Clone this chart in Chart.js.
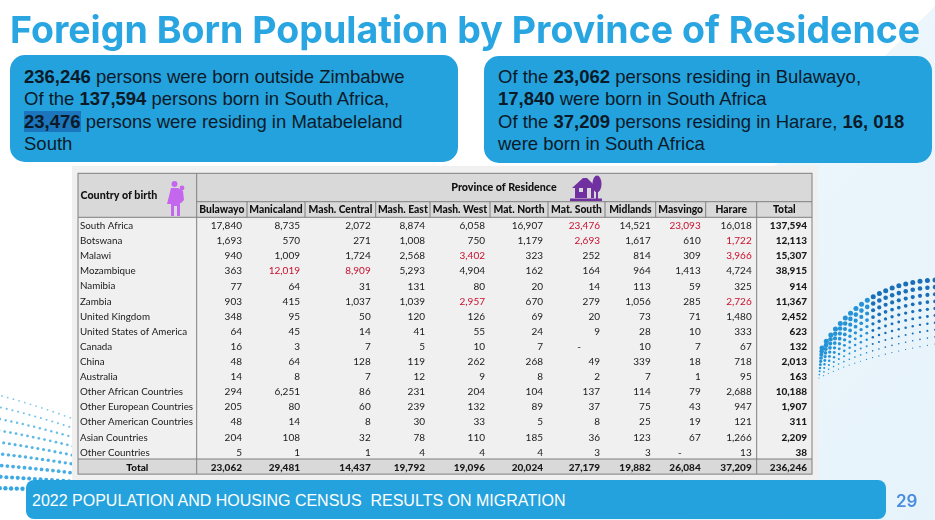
<!DOCTYPE html>
<html>
<head>
<meta charset="utf-8">
<script src="https://cdn.jsdelivr.net/npm/chart.js@4"></script>
<style>
html, body { margin: 0; padding: 0; background: #fff; }
#slide { position: relative; width: 935px; height: 520px; overflow: hidden; background: #fff; font-family: "Liberation Sans", Arial, sans-serif; }
#tint { position: absolute; inset: 0; background: linear-gradient(135deg, #f6fbfe 0%, #e6f3fa 100%); clip-path: polygon(935px 6px, 935px 520px, 560px 520px, 560px 380px); }
#deco, #chart { position: absolute; left: 0; top: 0; }
h1 { position: absolute; left: 10px; top: 7px; margin: 0; font: 700 37.5px Inter, sans-serif; color: #29a6e2; white-space: nowrap; }
.note { position: absolute; background: #24a2de; border-radius: 15px; color: #0b1a28; font-size: 18.5px; line-height: 22.4px; white-space: nowrap; box-sizing: border-box; }
#noteA { left: 10px; top: 55px; width: 448px; height: 107px; padding: 11px 0 0 14px; }
#noteB { left: 484px; top: 56px; width: 448px; height: 107px; padding: 10px 0 0 14px; }
.mark { background: #1b76bd; }
#footer { position: absolute; left: 26px; top: 480px; width: 860px; height: 39px; background: #24a2de; border-radius: 8px; color: #fff; font-size: 16px; line-height: 41px; text-indent: 6px; white-space: pre; }
#page { position: absolute; left: 896px; top: 491px; font: 600 17px Inter, sans-serif; color: #4a8ce0; }
svg { position: absolute; }
</style>
</head>
<body>
<div id="slide">
  <div id="tint"></div>
  <canvas id="deco" width="935" height="520"></canvas>
  <h1>Foreign Born Population by Province of Residence</h1>
  <div id="noteA" class="note"><b>236,246</b> persons were born outside Zimbabwe<br>Of the <b>137,594</b> persons born in South Africa,<br><b class="mark">23,476</b> persons were residing in Matabeleland<br>South</div>
  <div id="noteB" class="note">Of the <b>23,062</b> persons residing in Bulawayo,<br><b>17,840</b> were born in South Africa<br>Of the <b>37,209</b> persons residing in Harare, <b>16, 018</b><br>were born in South Africa</div>
  <canvas id="chart" width="935" height="480"></canvas>
  <svg style="left:166px;top:180px" width="22" height="37" viewBox="0 0 22 37" fill="#c566ee">
    <circle cx="8.5" cy="4" r="3"/><circle cx="16" cy="8" r="2.4"/>
    <path d="M5 8h7l5 3 1 9-3 3-1 0v13h-3V26H8v10H5V24H1z"/>
  </svg>
  <svg style="left:570px;top:175px" width="34" height="27" viewBox="0 0 34 27" fill="#7030a0">
    <path d="M2 13 13 3h4l8 8v2h-1v10H5V13z"/>
    <ellipse cx="27" cy="9" rx="4.5" ry="8.5"/><rect x="26" y="16" width="2" height="8"/>
    <rect x="0" y="23.5" width="32" height="2.5"/>
    <rect x="9" y="13" width="4" height="4" fill="#d9d9d9"/><rect x="17" y="13" width="4" height="10" fill="#d9d9d9"/>
  </svg>
  <div id="footer">2022 POPULATION AND HOUSING CENSUS  RESULTS ON MIGRATION</div>
  <div id="page">29</div>
</div>
<script>
var provinces = ['Bulawayo', 'Manicaland', 'Mash. Central', 'Mash. East', 'Mash. West', 'Mat. North', 'Mat. South', 'Midlands', 'Masvingo', 'Harare', 'Total'];
var countries = ['South Africa', 'Botswana', 'Malawi', 'Mozambique', 'Namibia', 'Zambia', 'United Kingdom', 'United States of America', 'Canada', 'China', 'Australia', 'Other African Countries', 'Other European Countries', 'Other American Countries', 'Asian Countries', 'Other Countries', 'Total'];

var southAfrica = [17840, 8735, 2072, 8874, 6058, 16907, 23476, 14521, 23093, 16018, 137594];
var botswana = [1693, 570, 271, 1008, 750, 1179, 2693, 1617, 610, 1722, 12113];
var malawi = [940, 1009, 1724, 2568, 3402, 323, 252, 814, 309, 3966, 15307];
var mozambique = [363, 12019, 8909, 5293, 4904, 162, 164, 964, 1413, 4724, 38915];
var namibia = [77, 64, 31, 131, 80, 20, 14, 113, 59, 325, 914];
var zambia = [903, 415, 1037, 1039, 2957, 670, 279, 1056, 285, 2726, 11367];
var unitedKingdom = [348, 95, 50, 120, 126, 69, 20, 73, 71, 1480, 2452];
var unitedStates = [64, 45, 14, 41, 55, 24, 9, 28, 10, 333, 623];
var canada = [16, 3, 7, 5, 10, 7, null, 10, 7, 67, 132];
var china = [48, 64, 128, 119, 262, 268, 49, 339, 18, 718, 2013];
var australia = [14, 8, 7, 12, 9, 8, 2, 7, 1, 95, 163];
var otherAfrican = [294, 6251, 86, 231, 204, 104, 137, 114, 79, 2688, 10188];
var otherEuropean = [205, 80, 60, 239, 132, 89, 37, 75, 43, 947, 1907];
var otherAmerican = [48, 14, 8, 30, 33, 5, 8, 25, 19, 121, 311];
var asian = [204, 108, 32, 78, 110, 185, 36, 123, 67, 1266, 2209];
var otherCountries = [5, 1, 1, 4, 4, 4, 3, 3, null, 13, 38];
var totals = [23062, 29481, 14437, 19792, 19096, 20024, 27179, 19882, 26084, 37209, 236246];
var rows = [southAfrica, botswana, malawi, mozambique, namibia, zambia, unitedKingdom, unitedStates, canada, china, australia, otherAfrican, otherEuropean, otherAmerican, asian, otherCountries, totals];

// cells printed in red, as row:column
var redCells = ['0:6', '0:8', '1:6', '1:9', '2:4', '2:9', '3:1', '3:2', '5:4', '5:9'];

// column widths of the table, the x scale runs over their sum
var colWidths = [50.3, 58, 70.7, 54.3, 60, 58, 57, 50.7, 50, 51, 55.3];
var colEnds = [], colMids = [];
(function() {
    var sum = 0;
    colWidths.forEach(function(w) {
        colMids.push(sum + w / 2);
        sum += w;
        colEnds.push(sum);
    });
})();

var tableLeft = 78, headTop = 173.3, headMid = 201.7;
var lineColor = '#7f7f7f', headFill = '#d9d9d9', cellFont = '10px Lato', boldFont = '900 10px Lato', titleFont = '900 10.7px Lato';

function fmtNum(v) {
    return v === null ? '-' : v.toLocaleString('en-US');
}

function drawDeco() {
    var ctx = document.getElementById('deco').getContext('2d');
    var r, i;
    // lower left fan
    for (r = 0; r < 9; r++) {
        for (i = 0; i < 14; i++) {
            var t = i / 13, k = r / 8;
            var x = 2 + t * 74 - k * 8;
            var y = 396 + k * 92 + t * (24 - k * 22) - 4 * (1 - k) * t * (1 - t);
            ctx.fillStyle = 'rgba(40,160,225,' + (0.6 + k * 0.35) + ')';
            ctx.beginPath();
            ctx.arc(x, y, 0.9 + k * 1.3, 0, Math.PI * 2);
            ctx.fill();
        }
    }
    // right fan
    for (r = 0; r < 10; r++) {
        for (i = 0; i < 20; i++) {
            var u = i / 19, q = r / 9;
            var sx = 819 + q * 3, sy = 378 - q * 30;
            var ex = 935, ey = 344 - q * 64;
            var cx = 862, cy = 356 - q * 73;
            var px = (1 - u) * (1 - u) * sx + 2 * u * (1 - u) * cx + u * u * ex;
            var py = (1 - u) * (1 - u) * sy + 2 * u * (1 - u) * cy + u * u * ey;
            ctx.fillStyle = u > 0.5 ? '#1a6fb8' : '#2593d6';
            ctx.beginPath();
            ctx.arc(px, py, 0.6 + q * 1.9, 0, Math.PI * 2);
            ctx.fill();
        }
    }
}

var tablePlugin = {
    id: 'tablePlugin',
    beforeDraw: function(chart) {
        var ctx = chart.ctx, a = chart.chartArea;
        var xs = chart.scales.x, ys = chart.scales.y;
        var totalTop = ys.getPixelForValue(countries.length - 1) - (ys.getPixelForValue(1) - ys.getPixelForValue(0)) / 2;
        ctx.save();
        ctx.fillStyle = '#f0f0f0';
        ctx.fillRect(72, 166, 746, 314);
        ctx.fillStyle = headFill;
        ctx.fillRect(tableLeft, headTop, a.right - tableLeft, a.top - headTop);
        ctx.fillRect(tableLeft, totalTop, a.right - tableLeft, a.bottom - totalTop);

        ctx.strokeStyle = lineColor;
        ctx.lineWidth = 1;
        function line(x1, y1, x2, y2) {
            ctx.beginPath();
            ctx.moveTo(x1, y1);
            ctx.lineTo(x2, y2);
            ctx.stroke();
        }
        ctx.strokeRect(tableLeft, headTop, a.right - tableLeft, a.bottom - headTop);
        line(tableLeft, a.top, a.right, a.top);
        line(a.left, headMid, a.right, headMid);
        line(a.left, headTop, a.left, a.bottom);
        line(tableLeft, totalTop, a.right, totalTop);
        colEnds.forEach(function(end, i) {
            var x = xs.getPixelForValue(end);
            if (i < colEnds.length - 2) line(x, headMid, x, a.top);
            if (i === colEnds.length - 2) line(x, headMid, x, a.bottom);
        });
        ctx.restore();
    },
    afterDatasetsDraw: function(chart) {
        var ctx = chart.ctx, a = chart.chartArea;
        var ys = chart.scales.y;
        ctx.save();
        ctx.textBaseline = 'middle';
        chart.data.datasets.forEach(function(ds, di) {
            var els = chart.getDatasetMeta(di).data;
            els.forEach(function(el, ci) {
                var v = ds.data[ci].value;
                var bold = ci === colEnds.length - 1 || di === countries.length - 1;
                ctx.font = bold ? boldFont : cellFont;
                ctx.fillStyle = redCells.indexOf(di + ':' + ci) >= 0 ? '#c8102e' : '#1a1a1a';
                ctx.textAlign = 'right';
                ctx.fillText(fmtNum(v), el.x - (v === null ? 24 : 5), el.y + 1);
            });
        });
        ctx.fillStyle = '#111';
        ctx.textAlign = 'center';
        ctx.font = boldFont;
        ctx.fillText('Total', (tableLeft + a.left) / 2, ys.getPixelForValue(countries.length - 1) + 1);
        ctx.font = titleFont;
        ctx.fillText('Province of Residence', 504, 187.5);
        ctx.textAlign = 'left';
        ctx.fillText('Country of birth', 80.5, 195.5);
        ctx.restore();
    }
};

function buildDatasets() {
    return rows.map(function(row, r) {
        return {
            label: countries[r],
            pointRadius: 0,
            pointHoverRadius: 0,
            data: row.map(function(v, c) {
                return { x: colEnds[c], y: countries[r], value: v };
            })
        };
    });
}

drawDeco();

new Chart(document.getElementById('chart'), {
    type: 'scatter',
    data: { datasets: buildDatasets() },
    plugins: [tablePlugin],
    options: {
        responsive: false,
        animation: false,
        devicePixelRatio: 1,
        layout: { padding: { left: 80, top: 201.7, right: 123, bottom: 5 } },
        plugins: { legend: { display: false }, tooltip: { enabled: false } },
        scales: {
            x: {
                type: 'linear',
                position: 'top',
                min: 0,
                max: colEnds[colEnds.length - 1],
                grid: { display: false, drawTicks: false },
                border: { display: false },
                afterBuildTicks: function(s) {
                    s.ticks = colMids.map(function(v) { return { value: v }; });
                },
                afterFit: function(s) { s.height = 15.6; },
                ticks: {
                    autoSkip: false,
                    maxRotation: 0,
                    minRotation: 0,
                    padding: 1,
                    color: '#111',
                    font: { family: 'Lato', size: 10.3, weight: '900' },
                    callback: function(v, i) { return provinces[i]; }
                }
            },
            y: {
                type: 'category',
                labels: countries,
                offset: true,
                grid: { display: false, drawTicks: false },
                border: { display: false },
                afterFit: function(s) { s.width = 116.7; },
                ticks: {
                    autoSkip: false,
                    crossAlign: 'far',
                    padding: 0,
                    labelOffset: 1,
                    color: '#1a1a1a',
                    font: { family: 'Lato', size: 9.8 },
                    callback: function(v, i) { return i === countries.length - 1 ? '' : countries[i]; }
                }
            }
        }
    }
});
</script>
</body>
</html>
